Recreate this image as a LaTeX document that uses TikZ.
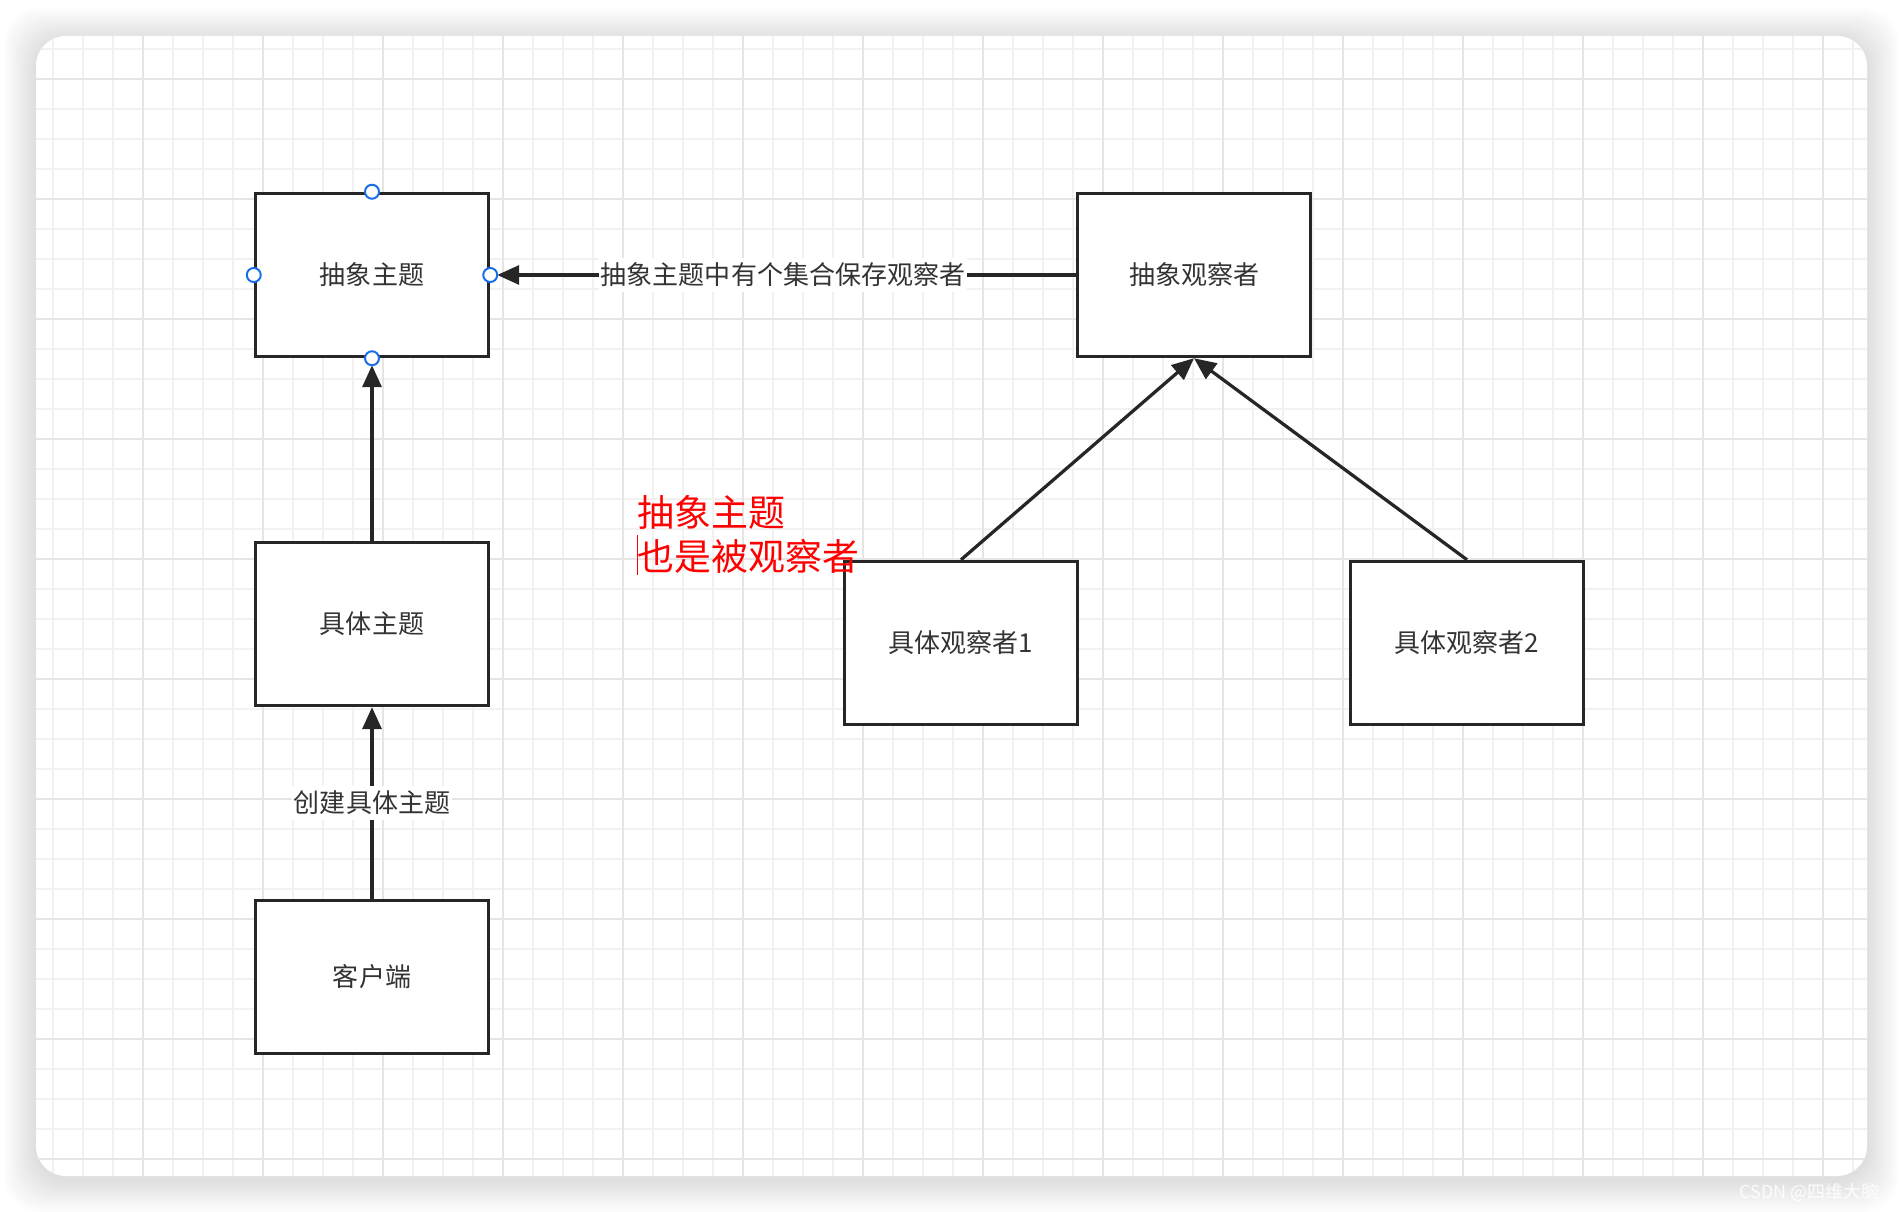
\documentclass[tikz,border=0pt]{standalone}
\usepackage{fontspec}
\setmainfont{Noto Sans CJK SC}
\usepackage{tikz}
\usetikzlibrary{arrows.meta,positioning}
\definecolor{linegray}{HTML}{262626}
\definecolor{textgray}{HTML}{333333}
\definecolor{gridminor}{HTML}{F1F1F1}
\definecolor{gridmajor}{HTML}{E5E5E5}
\definecolor{selblue}{HTML}{1A6FE8}
\tikzset{>={Triangle[length=0.44cm,width=0.38cm]}}
\tikzset{box/.style={draw=linegray, line width=0.07cm, fill=white, minimum width=4.66cm, minimum height=3.26cm, text=textgray, font=\fontsize{14.8}{17}\selectfont, inner sep=0pt}}
\tikzset{handle/.style={circle, draw=selblue, line width=0.04cm, fill=white, minimum size=0.28cm, inner sep=0pt}}
\tikzset{lbl/.style={fill=white, text=textgray, font=\fontsize{14.8}{17}\selectfont, inner xsep=0.04cm, inner ysep=0.1cm}}

\begin{document}
\begin{tikzpicture}[x=0.02cm, y=-0.02cm, line width=0.065cm, draw=linegray]
            \useasboundingbox (0,0) rectangle (1904,1212);
            % canvas with its shadow
            \foreach \s in {1,...,16}
              \fill[black, opacity=0.0075, rounded corners=0.7cm] (36-2*\s,36-2*\s+4) rectangle (1867+2*\s,1176+2*\s+4);
            \fill[white, rounded corners=0.6cm] (36,36) rectangle (1867,1176);
            \begin{scope}
              \clip[rounded corners=0.6cm] (36,36) rectangle (1867,1176);
              \foreach \gx in {23,53,...,1883} \draw[gridminor, line width=0.04cm] (\gx,36) -- (\gx,1176);
              \foreach \gy in {19,49,...,1189} \draw[gridminor, line width=0.04cm] (36,\gy) -- (1867,\gy);
              \foreach \gx in {23,143,...,1883} \draw[gridmajor, line width=0.04cm] (\gx,36) -- (\gx,1176);
              \foreach \gy in {79,199,...,1159} \draw[gridmajor, line width=0.04cm] (36,\gy) -- (1867,\gy);
            \end{scope}
            \node [text=white, opacity=0.85, font=\fontsize{10.2}{12}\selectfont, anchor=west, inner sep=0pt] (wm) at (1738,1193) {CSDN @四维大脑};
            % subject side
            \node[box] at (372,275) (S) {抽象主题};
            \node[box, below=3.65cm of S] (S1) {具体主题};
            \node[box, minimum height=3.06cm, below=3.83cm of S1] (C) {客户端};
            % observer side
            \node[box] at (1194,275) (O) {抽象观察者};
            \node[box] at (961,643) (O1) {具体观察者1};
            \node[box] at (1467,643) (O2) {具体观察者2};
            \draw[->, linegray, shorten >=0.14cm] (S1) to (S);
            \draw[->, linegray] (C) to node [lbl] {创建具体主题} (S1);
            \draw[->, linegray, shorten >=0.14cm] (O) to node [lbl] {抽象主题中有个集合保存观察者} (S);
            \draw[->, linegray] (O1.north) to (O.south);
            \draw[->, linegray] (O2.north) to (O.south);
            %\draw[->, linegray] (O2.north) to (O.south east);
            \node[handle] at (S.north) (h1) {};
            \node[handle] at (S.south) (h2) {};
            \node[handle] at (S.west) (h3) {};
            \node[handle] at (S.east) (h4) {};
            % note in red
            \node [text=red, font=\fontsize{21}{24.8}\selectfont, align=left, anchor=north west, inner sep=0pt] at (636,494) (note) {抽象主题\\也是被观察者};
            \draw[red, line width=0.02cm] (637,535) -- (637,575);
\end{tikzpicture}
\end{document}
